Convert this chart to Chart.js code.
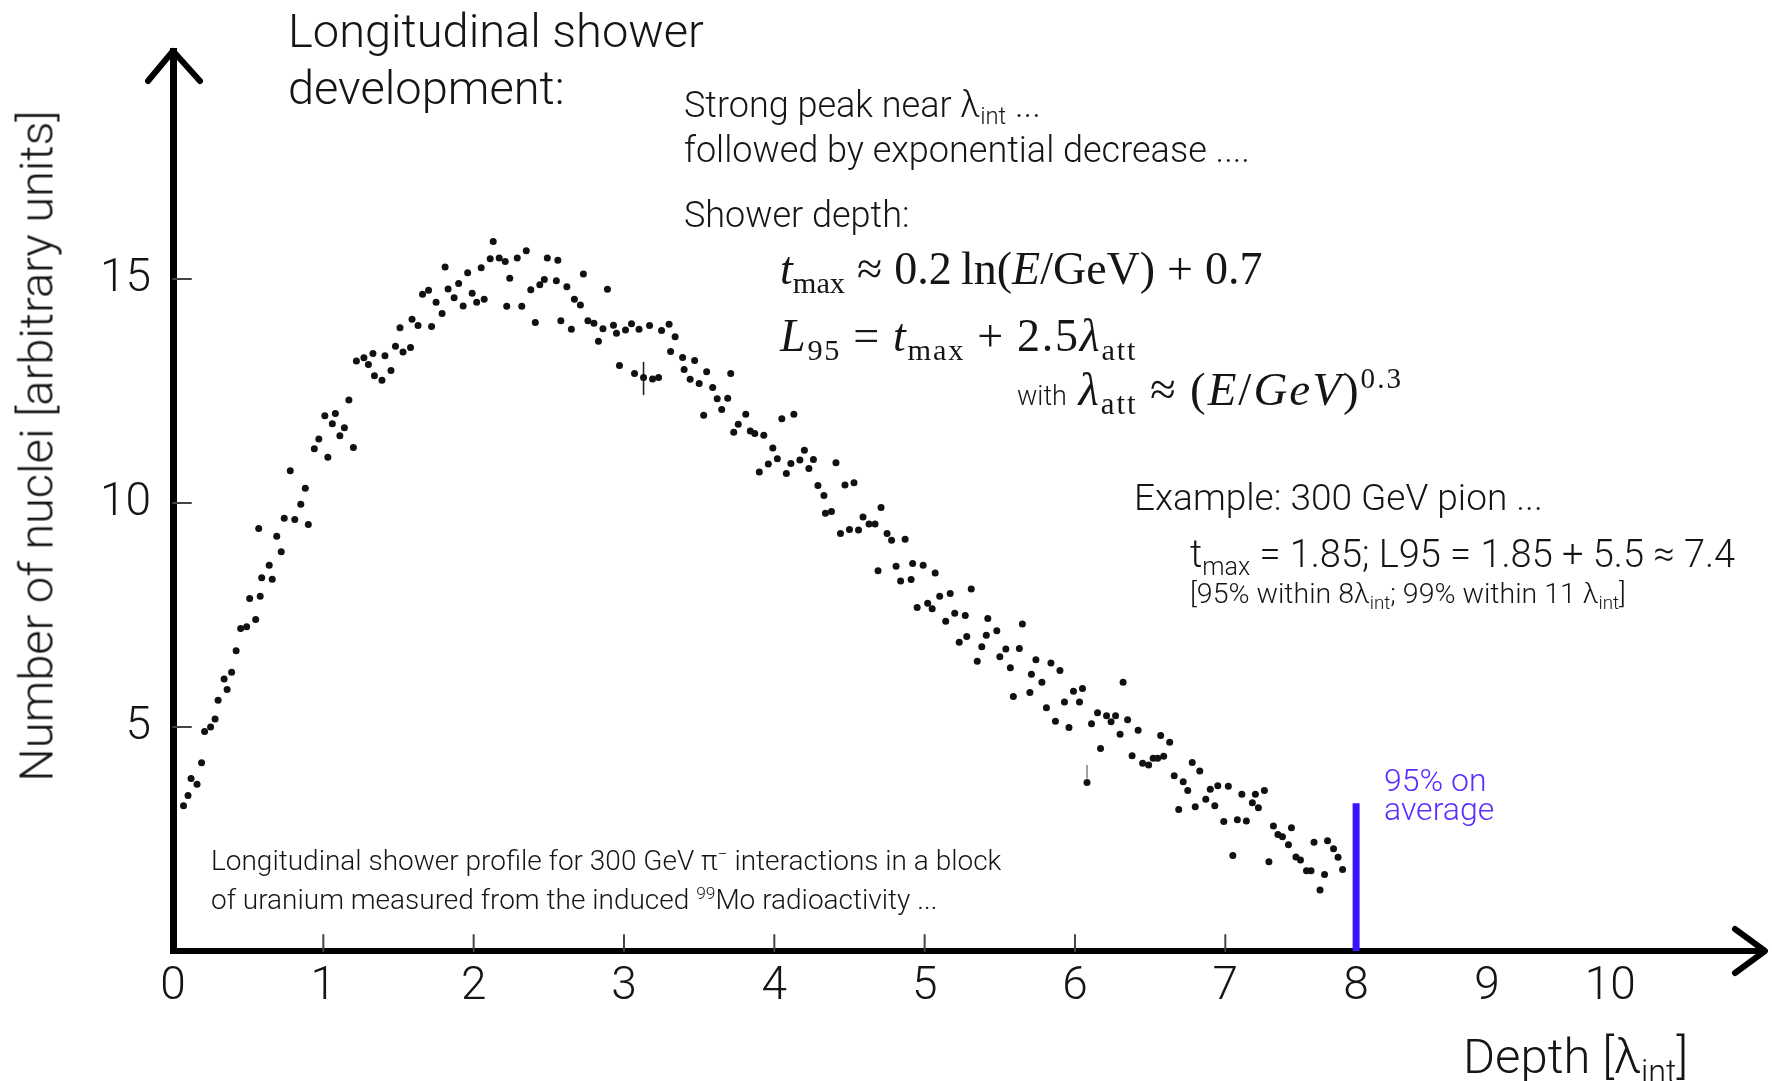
<!DOCTYPE html>
<html>
<head>
<meta charset="utf-8">
<script src="https://cdn.jsdelivr.net/npm/chart.js@4.4.1/dist/chart.umd.min.js"></script>
<style>
  html, body { margin: 0; padding: 0; background: #fff; }
  #wrap { position: relative; width: 1772px; height: 1081px; overflow: hidden; }
  #myChart { position: absolute; left: 0; top: 0; }
  .txt { position: absolute; white-space: nowrap; font-family: Roboto, "Liberation Sans", sans-serif; font-weight: 300; color: #151515; }
  .math { font-family: "Liberation Serif", "DejaVu Serif", serif; font-weight: 400; }
  .sub { font-size: 0.66em; position: relative; top: 0.3em; }
  .sup { font-size: 0.62em; position: relative; top: -0.6em; }
  .op { margin: 0 0.26em; }
</style>
</head>
<body>
<div id="wrap">
  <canvas id="myChart" width="1772" height="1081"></canvas>

  <div class="txt" style="left:288px; top:2px; font-size:47px; line-height:57px;">Longitudinal shower<br>development:</div>

  <div class="txt" style="left:684px; top:84px; font-size:36px; line-height:43px;">Strong peak near λ<span class="sub">int</span> ...</div>
  <div class="txt" style="left:684px; top:129px; font-size:36px; line-height:43px;">followed by exponential decrease ....</div>
  <div class="txt" style="left:684px; top:194px; font-size:36px; line-height:43px;">Shower depth:</div>

  <div class="txt math" style="left:780px; top:241px; font-size:46px; line-height:55px;"><i>t</i><span class="sub">max</span><span class="op">≈</span>0.2&thinsp;ln(<i>E</i>/GeV)<span class="op">+</span>0.7</div>
  <div class="txt math" style="left:780px; top:308px; font-size:46px; line-height:55px; letter-spacing:1.8px;"><i>L</i><span class="sub">95</span><span class="op">=</span><i>t</i><span class="sub">max</span><span class="op">+</span>2.5<i>λ</i><span class="sub">att</span></div>
  <div class="txt math" style="left:1017px; top:361px; font-size:47px; line-height:56px; letter-spacing:2px;"><span style="font-family:Roboto, 'Liberation Sans', sans-serif; font-weight:300; font-size:27px; letter-spacing:0;">with</span>&thinsp;<i>λ</i><span class="sub">att</span><span class="op">≈</span>(<i>E</i>/<i>GeV</i>)<span class="sup">0.3</span></div>

  <div class="txt" style="left:1134px; top:476px; font-size:37px; line-height:44px;">Example: 300 GeV pion ...</div>
  <div class="txt" style="left:1190px; top:531px; font-size:38px; line-height:46px;">t<span class="sub">max</span> = 1.85; L95 = 1.85 + 5.5 ≈ 7.4</div>
  <div class="txt" style="left:1190px; top:577px; font-size:28.5px; line-height:34px;">[95% within 8λ<span class="sub">int</span>; 99% within 11 λ<span class="sub">int</span>]</div>

  <div class="txt" style="left:1384px; top:766px; font-size:32px; line-height:29px; color:#5a2cff;">95% on<br>average</div>

  <div class="txt" style="left:211px; top:843px; font-size:28px; line-height:36px;">Longitudinal shower profile for 300 GeV π<span class="sup">−</span> interactions in a block<br>of uranium measured from the induced <span class="sup">99</span>Mo radioactivity ...</div>

  <div class="txt" style="left:1463px; top:1027px; font-size:49px; line-height:59px;">Depth [λ<span class="sub">int</span>]</div>

  <div class="txt" style="left:36px; top:446px; font-size:47px; line-height:55px; transform: translate(-50%, -50%) rotate(-90deg);">Number of nuclei [arbitrary units]</div>
</div>

<script>
const rise = [[0.07,3.24],[0.10,3.47],[0.12,3.85],[0.16,3.72],[0.19,4.20],[0.21,4.90],[0.25,5.00],[0.28,5.18],[0.30,5.60],[0.34,6.07],[0.36,5.84],[0.39,6.22],[0.42,6.70],[0.45,7.20],[0.49,7.24],[0.51,7.87],[0.55,7.40],[0.57,9.43],[0.58,7.92],[0.59,8.33],[0.64,8.61],[0.66,8.30],[0.69,9.26],[0.72,8.91],[0.74,9.66],[0.78,10.72],[0.81,9.63],[0.85,9.97],[0.88,10.33],[0.90,9.52],[0.94,11.21],[0.97,11.43],[1.01,11.95],[1.03,11.02],[1.06,11.77],[1.08,12.00],[1.11,11.50],[1.14,11.68],[1.17,12.30],[1.20,11.24]];
const shoulder = [[1.22,13.17],[1.27,13.24],[1.30,13.09],[1.33,13.34],[1.34,12.84],[1.39,12.74],[1.41,13.29],[1.45,12.96],[1.48,13.50],[1.51,13.91],[1.53,13.37],[1.58,13.47],[1.59,14.10],[1.63,13.96],[1.66,14.66],[1.70,14.75],[1.72,13.94],[1.75,14.48]];
const peak = [[1.79,14.23],[1.81,15.27],[1.83,14.78],[1.87,14.58],[1.90,14.90],[1.93,14.40],[1.96,15.14],[1.99,14.68],[2.02,14.48],[2.05,15.25],[2.07,14.55],[2.11,15.45],[2.13,15.84],[2.17,15.47],[2.21,15.39],[2.22,14.39],[2.24,15.02],[2.29,15.47],[2.32,14.39],[2.35,15.63],[2.38,14.76],[2.41,14.03],[2.44,14.87],[2.47,14.99],[2.49,15.47],[2.55,14.96],[2.56,15.42],[2.58,14.07],[2.62,14.83],[2.65,13.88],[2.67,14.55],[2.71,14.42],[2.73,15.11],[2.76,14.07],[2.80,14.01],[2.83,13.61],[2.86,13.89],[2.89,14.77],[2.93,13.97],[2.95,13.79],[2.97,13.07],[3.01,13.86],[3.05,14.00],[3.07,12.89],[3.10,13.88],[3.13,12.80],[3.17,13.96],[3.19,12.77],[3.23,12.80],[3.25,13.85],[3.30,13.99],[3.31,13.38],[3.34,13.71],[3.39,13.25],[3.40,12.98],[3.44,12.76],[3.47,13.18],[3.50,12.67],[3.53,11.96],[3.55,12.93],[3.59,12.58],[3.62,12.33],[3.65,12.09],[3.69,12.34],[3.71,12.89],[3.73,11.58],[3.76,11.76]];
const fall = [[3.81,11.98],[3.84,11.61],[3.87,11.55],[3.90,10.69],[3.93,11.51],[3.96,10.87],[3.99,11.23],[4.02,10.99],[4.05,11.88],[4.08,10.66],[4.11,10.88],[4.13,11.98],[4.17,10.96],[4.20,11.18],[4.23,10.77],[4.26,10.97],[4.29,10.39],[4.33,10.17],[4.34,9.77],[4.38,9.81],[4.41,10.90],[4.44,9.32],[4.47,10.40],[4.50,9.41],[4.53,10.45],[4.56,9.40],[4.59,9.69],[4.63,9.53],[4.67,9.53],[4.69,8.49],[4.71,9.90],[4.75,9.32],[4.78,9.17],[4.81,8.59],[4.84,8.26],[4.87,9.19],[4.91,8.29],[4.92,8.65],[4.95,7.67],[4.99,8.61],[5.02,7.76],[5.05,7.64],[5.07,8.44],[5.10,7.92],[5.14,7.36],[5.17,7.98],[5.20,7.54],[5.23,6.89],[5.27,7.49],[5.28,7.02],[5.31,8.08],[5.35,6.47],[5.38,6.79],[5.41,7.05],[5.42,7.42]];
const decay = [[5.48,7.15],[5.50,6.57],[5.54,6.74],[5.57,6.32],[5.59,5.68],[5.63,6.75],[5.65,7.30],[5.70,5.77],[5.71,6.18],[5.74,6.50],[5.78,6.00],[5.81,5.43],[5.84,6.43],[5.87,5.13],[5.90,6.26],[5.93,5.56],[5.96,4.99],[5.99,5.80],[6.03,5.56],[6.05,5.86],[6.08,3.76],[6.11,5.07],[6.15,5.32],[6.17,4.52],[6.21,5.25],[6.24,5.12],[6.27,5.25],[6.30,4.84],[6.32,6.00],[6.35,5.16],[6.38,4.36],[6.42,4.93],[6.45,4.19],[6.49,4.15],[6.52,4.30],[6.55,4.30],[6.57,4.81],[6.59,4.35],[6.63,4.66],[6.66,3.91],[6.69,3.16],[6.72,3.78],[6.75,3.58],[6.78,4.21],[6.80,3.22],[6.83,4.02],[6.87,3.39],[6.90,3.61],[6.93,3.24],[6.95,3.69],[6.99,2.89],[7.02,3.68],[7.08,2.93],[7.11,3.50],[7.14,2.90]];
const tail = [[7.05,2.13],[7.18,3.31],[7.20,3.50],[7.22,3.20],[7.26,3.58],[7.29,1.99],[7.32,2.79],[7.35,2.60],[7.38,2.55],[7.42,2.37],[7.44,2.75],[7.47,2.10],[7.50,2.03],[7.54,1.79],[7.57,1.79],[7.59,2.43],[7.63,1.36],[7.66,1.71],[7.68,2.46],[7.72,2.28],[7.75,2.09],[7.78,1.82]];

// the two error bars visible in the scan
const errBarA = [[3.13,12.41],[3.13,13.15]];
const errBarB = [[6.08,3.85],[6.08,4.15]];

// hand drawn axis: 8, 9, 10 sit a bit closer together than 0..7
const xTickPos = [0,1,2,3,4,5,6,7,7.87,8.74,9.56];
const xTickLabels = ['0','1','2','3','4','5','6','7','8','9','10'];
const yTicks = [5,10,15];

// 95% containment marker (at the "8" label)
const markerDepth = xTickPos[8];
const markerTop = 3.3;

const toPts = arr => arr.map(([x, y]) => ({ x, y }));
const tickFont = { family: 'Roboto, "Liberation Sans", sans-serif', size: 46, weight: '300' };

const axisDeco = {
    id: 'axisDeco',
    afterDraw(chart) {
        const { ctx, chartArea: { left, right, top, bottom }, scales: { x, y } } = chart;
        ctx.save();
        ctx.strokeStyle = '#000';
        ctx.lineCap = 'round';
        ctx.lineJoin = 'round';
        ctx.lineWidth = 6;
        // arrow heads
        ctx.beginPath();
        ctx.moveTo(right - 30, bottom - 22);
        ctx.lineTo(right, bottom);
        ctx.lineTo(right - 30, bottom + 22);
        ctx.stroke();
        ctx.beginPath();
        ctx.moveTo(left - 25, top + 30);
        ctx.lineTo(left, top);
        ctx.lineTo(left + 27, top + 30);
        ctx.stroke();
        // short tick marks drawn inside the axes
        ctx.lineWidth = 2;
        ctx.strokeStyle = '#444';
        xTickPos.slice(1, 8).forEach(v => {
            const px = x.getPixelForValue(v);
            ctx.beginPath();
            ctx.moveTo(px, bottom);
            ctx.lineTo(px, bottom - 16);
            ctx.stroke();
        });
        yTicks.forEach(v => {
            const py = y.getPixelForValue(v);
            ctx.beginPath();
            ctx.moveTo(left, py);
            ctx.lineTo(left + 18, py);
            ctx.stroke();
        });
        ctx.restore();
    }
};

const data = {
    datasets: [
        {
            label: 'nuclei',
            data: toPts([...rise, ...shoulder, ...peak, ...fall, ...decay, ...tail]),
            backgroundColor: '#111',
            borderWidth: 0,
            pointRadius: 3.5
        },
        {
            label: 'err A',
            data: toPts(errBarA),
            showLine: true,
            borderColor: '#222',
            borderWidth: 1.6,
            pointRadius: 0
        },
        {
            label: 'err B',
            data: toPts(errBarB),
            showLine: true,
            borderColor: '#777',
            borderWidth: 1.4,
            pointRadius: 0
        },
        {
            label: '95%',
            data: [{ x: markerDepth, y: 0 }, { x: markerDepth, y: markerTop }],
            showLine: true,
            borderColor: '#3a14ff',
            borderWidth: 7,
            pointRadius: 0
        }
    ]
};

const config = {
    type: 'scatter',
    data: data,
    options: {
        responsive: false,
        animation: false,
        devicePixelRatio: 1,
        layout: { padding: { left: 0, right: 7, top: 51, bottom: 0 } },
        plugins: { legend: { display: false }, tooltip: { enabled: false } },
        scales: {
            x: {
                type: 'linear',
                min: 0,
                max: 10.59,
                afterBuildTicks: s => { s.ticks = xTickPos.map(v => ({ value: v })); },
                afterFit: s => { s.height = 130; },
                grid: { display: false, drawTicks: false },
                border: { display: true, color: '#000', width: 6 },
                ticks: {
                    color: '#151515',
                    font: tickFont,
                    padding: 9,
                    maxRotation: 0,
                    autoSkip: false,
                    callback: (v, i) => xTickLabels[i]
                }
            },
            y: {
                type: 'linear',
                min: 0,
                max: 20.09,
                afterBuildTicks: s => { s.ticks = yTicks.map(v => ({ value: v })); },
                afterFit: s => { s.width = 173; },
                grid: { display: false, drawTicks: false },
                border: { display: true, color: '#000', width: 7 },
                ticks: {
                    color: '#151515',
                    font: tickFont,
                    padding: 22,
                    autoSkip: false
                }
            }
        }
    },
    plugins: [axisDeco]
};

const myChart = new Chart(document.getElementById('myChart'), config);
</script>
</body>
</html>
